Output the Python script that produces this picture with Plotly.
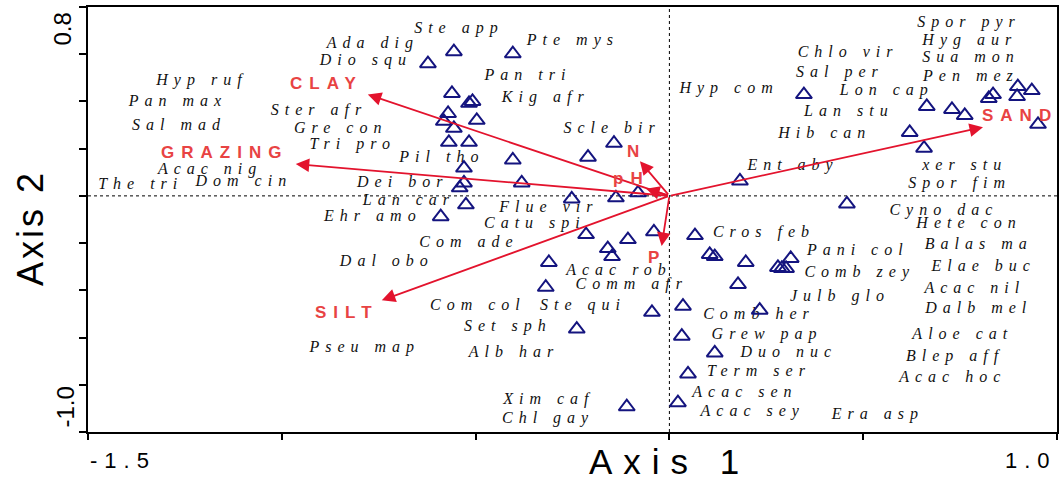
import plotly.graph_objects as go

# ---------------- data ----------------
tri_x = [-0.556, -0.404, -0.623, -0.561, -0.517, -0.508, -0.571, -0.582, -0.497, -0.556,
         -0.569, -0.517, -0.404, -0.210, -0.143, -0.530, -0.381, -0.530, -0.541, -0.252,
         -0.138, -0.525, -0.590, -0.081, -0.215, -0.107, -0.040, -0.159, -0.148, -0.311,
         -0.319, -0.045, 0.035, -0.239, 0.066, 0.104, 0.117, 0.197, 0.313, 0.280,
         0.290, 0.301, 0.177, 0.233, 0.032, 0.117, 0.048, 0.022, -0.110, 0.347,
         0.664, 0.729, 0.762, 0.620, 0.657, 0.182, 0.458, 0.824, 0.835, 0.899,
         0.897, 0.935, 0.951]
tri_y = [0.611, 0.602, 0.560, 0.434, 0.392, 0.400, 0.349, 0.316, 0.320, 0.286,
         0.227, 0.227, 0.152, 0.164, 0.223, 0.118, 0.055, 0.055, 0.034, -0.013,
         -0.008, -0.038, -0.088, 0.013, -0.164, -0.185, -0.152, -0.223, -0.257, -0.282,
         -0.387, -0.493, -0.467, -0.564, -0.168, -0.248, -0.257, -0.282, -0.265, -0.303,
         -0.307, -0.307, -0.375, -0.484, -0.594, -0.665, -0.754, -0.876, -0.893, 0.429,
         0.379, 0.366, 0.341, 0.269, 0.202, 0.063, -0.034, 0.413, 0.429, 0.463,
         0.421, 0.446, 0.303]

species = ["Hyp ruf", "Pan max", "Sal mad", "Acac nig", "The tri", "Dom cin", "Ada dig",
           "Dio squ", "Ste app", "Pte mys", "Pan tri", "Kig afr", "Ster afr", "Gre con",
           "Tri pro", "Pil tho", "Dei bor", "Lan car", "Ehr amo", "Flue vir", "Catu spi",
           "Scle bir", "Com ade", "Dal obo", "Acac rob", "Comm afr", "Com col", "Ste qui",
           "Set sph", "Alb har", "Pseu map", "Xim caf", "Chl gay", "Hyp com", "Chlo vir",
           "Sal per", "Lon cap", "Lan stu", "Hib can", "Ent aby", "Spor pyr", "Hyg aur",
           "Sua mon", "Pen mez", "xer stu", "Spor fim", "Cyno dac", "Hete con", "Cros feb",
           "Pani col", "Comb zey", "Julb glo", "Comb her", "Grew pap", "Duo nuc", "Term ser",
           "Acac sen", "Acac sey", "Era asp", "Balas ma", "Elae buc", "Acac nil", "Dalb mel",
           "Aloe cat", "Blep aff", "Acac hoc"]
species_x = [-1.206, -1.268, -1.265, -1.185, -1.364, -1.098, -0.765, -0.783, -0.543, -0.249,
             -0.365, -0.319, -0.904, -0.848, -0.817, -0.587, -0.688, -0.672, -0.765, -0.311,
             -0.347, -0.148, -0.517, -0.729, -0.130, -0.097, -0.494, -0.223, -0.417, -0.401,
             -0.786, -0.311, -0.313, 0.154, 0.461, 0.440, 0.561, 0.463, 0.401, 0.319,
             0.773, 0.775, 0.778, 0.778, 0.762, 0.749, 0.708, 0.773, 0.244, 0.486,
             0.491, 0.440, 0.231, 0.252, 0.308, 0.231, 0.195, 0.215, 0.538, 0.798,
             0.811, 0.788, 0.798, 0.757, 0.737, 0.731]
species_y = [0.488, 0.396, 0.295, 0.109, 0.046, 0.059, 0.644, 0.573, 0.707, 0.657,
             0.509, 0.413, 0.358, 0.282, 0.215, 0.160, 0.055, -0.021, -0.088, -0.051,
             -0.118, 0.282, -0.198, -0.282, -0.320, -0.379, -0.467, -0.467, -0.556, -0.665,
             -0.644, -0.863, -0.943, 0.451, 0.606, 0.522, 0.446, 0.354, 0.261, 0.126,
             0.733, 0.657, 0.585, 0.505, 0.126, 0.051, -0.063, -0.118, -0.156, -0.232,
             -0.328, -0.429, -0.505, -0.589, -0.665, -0.745, -0.834, -0.914, -0.926, -0.206,
             -0.303, -0.396, -0.480, -0.589, -0.682, -0.771]

env_names = ["CLAY", "GRAZING", "SILT", "SAND", "N", "pH", "P"]
env_x = [-0.778, -0.964, -0.742, 0.809, -0.076, -0.060, -0.020]
env_y = [0.429, 0.135, -0.442, 0.291, 0.147, 0.030, -0.212]
env_label_x = [-0.884, -1.147, -0.832, 0.904, -0.084, -0.099, -0.032]
env_label_y = [0.476, 0.185, -0.493, 0.341, 0.189, 0.072, -0.261]

x_range = [-1.5, 1.0]
y_range = [-1.0, 0.8]
x_tick_labels = ["-1.5", "1.0"]
y_tick_labels = ["0.8", "-1.0"]

# ---------------- styles ----------------
NAVY = "#14147f"
ARROW_RED = "#e3132d"
LABEL_RED = "#e84343"


def spaced(t, px):
    return f'<span style="letter-spacing:{px}px">{t}</span>'


fig = go.Figure()

fig.add_trace(go.Scatter(
    x=species_x, y=species_y, mode="text",
    text=[spaced(s, 6) for s in species],
    textposition="middle center",
    textfont=dict(family="Liberation Serif", size=16, color="#111111", style="italic"),
    hoverinfo="skip", showlegend=False,
))

fig.add_trace(go.Scatter(
    x=tri_x, y=tri_y, mode="markers",
    marker=dict(symbol="triangle-up-open", size=14, color=NAVY,
                line=dict(color=NAVY, width=2)),
    hoverinfo="skip", showlegend=False,
))

annotations = []
# arrows from origin
for ex, ey in zip(env_x, env_y):
    annotations.append(dict(
        x=ex, y=ey, ax=0, ay=0, xref="x", yref="y", axref="x", ayref="y",
        text="", showarrow=True, arrowhead=2, arrowsize=1.5, arrowwidth=1.8,
        arrowcolor=ARROW_RED,
    ))
# env labels
for name, lx, ly in zip(env_names, env_label_x, env_label_y):
    annotations.append(dict(
        x=lx, y=ly, xref="x", yref="y", text=spaced(name, 7), showarrow=False,
        xanchor="center", yanchor="middle",
        font=dict(family="Liberation Sans", size=17, color=LABEL_RED, weight="bold"),
    ))

# tick labels
annotations.append(dict(x=x_range[0], y=0, xref="x", yref="paper", yshift=-14,
                        text=spaced(x_tick_labels[0], 7), showarrow=False,
                        xanchor="left", yanchor="top",
                        font=dict(family="Liberation Sans", size=22, color="black")))
annotations.append(dict(x=x_range[1], y=0, xref="x", yref="paper", yshift=-14, xshift=2,
                        text=spaced(x_tick_labels[1], 7), showarrow=False,
                        xanchor="right", yanchor="top",
                        font=dict(family="Liberation Sans", size=22, color="black")))
annotations.append(dict(x=0, y=y_range[1], xref="paper", yref="y", xshift=-26, yshift=-4,
                        text=y_tick_labels[0], showarrow=False, textangle=-90,
                        xanchor="center", yanchor="top",
                        font=dict(family="Liberation Sans", size=24, color="black")))
annotations.append(dict(x=0, y=y_range[0], xref="paper", yref="y", xshift=-23, yshift=2,
                        text=y_tick_labels[1], showarrow=False, textangle=-90,
                        xanchor="center", yanchor="bottom",
                        font=dict(family="Liberation Sans", size=24, color="black")))
# axis titles
annotations.append(dict(x=0.6, y=0, xref="paper", yref="paper", yshift=-29,
                        text=spaced("Axis 1", 11), showarrow=False,
                        xanchor="center", yanchor="middle",
                        font=dict(family="Liberation Sans", size=35, color="black")))
annotations.append(dict(x=0, y=0.48, xref="paper", yref="paper", xshift=-58,
                        text=spaced("Axis 2", 3), showarrow=False, textangle=-90,
                        xanchor="center", yanchor="middle",
                        font=dict(family="Liberation Sans", size=36, color="black")))

shapes = [
    dict(type="line", xref="x", yref="y", x0=0, x1=0, y0=y_range[0], y1=y_range[1],
         line=dict(color="black", width=1, dash="dot"), layer="below"),
    dict(type="line", xref="x", yref="y", x0=x_range[0], x1=x_range[1], y0=0, y1=0,
         line=dict(color="black", width=1, dash="dot"), layer="below"),
]

fig.update_layout(
    width=1064, height=483,
    margin=dict(l=88, r=7, t=5, b=51),
    paper_bgcolor="white", plot_bgcolor="white",
    annotations=annotations, shapes=shapes,
    showlegend=False,
    xaxis=dict(range=x_range, showgrid=False, zeroline=False, showline=True, mirror=True,
               linecolor="black", linewidth=2, ticks="outside", ticklen=6, tickwidth=2,
               tickcolor="black", dtick=0.5, tick0=-1.5, showticklabels=False),
    yaxis=dict(range=y_range, showgrid=False, zeroline=False, showline=True, mirror=True,
               linecolor="black", linewidth=2, ticks="outside", ticklen=7, tickwidth=2,
               tickcolor="black", dtick=0.2, tick0=-1.0, showticklabels=False),
)

fig.write_html(
    "out.html",
    config={"displayModeBar": False},
    post_script="document.body.style.margin='0';document.body.style.overflow='hidden';",
)
